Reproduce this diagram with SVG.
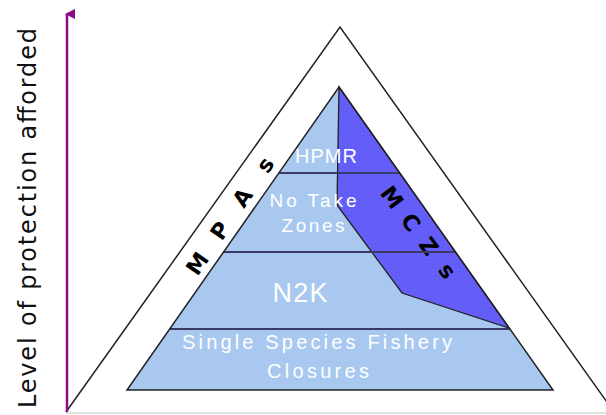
<svg xmlns="http://www.w3.org/2000/svg" width="606" height="415" viewBox="0 0 606 415">
<defs>
<style>
.tier{fill:#a8c8f0;stroke:none}
.tl{fill:#ffffff;font-family:"Liberation Sans",Arial,sans-serif;text-anchor:middle}
.sep{stroke:#3a3a66;stroke-width:2;fill:none}
.edge{stroke:#222;stroke-width:1.5;fill:none;stroke-linejoin:miter}
.side{font-family:"DejaVu Sans","Liberation Sans",sans-serif;font-weight:bold;font-size:22px;fill:#000;text-anchor:middle}
</style>
<pattern id="dots" width="4" height="4" patternUnits="userSpaceOnUse">
<rect width="4" height="4" fill="#5e5ef8"/>
<rect x="1" y="1" width="1.2" height="1.2" fill="#9a52ee"/>
</pattern>
<marker id="ah" viewBox="0 0 10 10" refX="5" refY="2" markerWidth="10" markerHeight="10" markerUnits="userSpaceOnUse" orient="auto-start-reverse">
<path d="M0,10 L5,0 L10,10 Z" fill="#8a0a8a"/>
</marker>
</defs>
<rect width="606" height="415" fill="#ffffff"/>

<g id="outer-triangle">
<line x1="66" y1="413" x2="606" y2="413" stroke="#d8d8d8" stroke-width="1.5"/>
<polyline points="66,412 340,27 614,412" fill="none" stroke="#222" stroke-width="1.5"/>
</g>

<g id="tier-closures">
<polygon class="tier" points="169.7,329 510,329 553,390 127,390"/>
<text class="tl" x="317" y="349" font-size="20" textLength="270" lengthAdjust="spacing">Single Species Fishery</text>
<text class="tl" x="318" y="378" font-size="20" textLength="102" lengthAdjust="spacing">Closures</text>
</g>
<g id="tier-n2k">
<polygon class="tier" points="223.5,252 455.5,252 510,329 169.7,329"/>
</g>
<g id="tier-notake">
<polygon class="tier" points="278.8,173 399.7,173 455.5,252 223.5,252"/>
</g>
<g id="tier-hpmr">
<polygon class="tier" points="339,87 399.7,173 278.8,173"/>
</g>

<g id="mczs">
<polygon points="339,87 337,205 402,293 509,328" fill="url(#dots)" stroke="#222" stroke-width="1.3"/>
<text class="side" transform="translate(420,234) rotate(53)" x="-46 -15 15 46" y="8">MCZs</text>
</g>

<g id="separators">
<line class="sep" x1="278.8" y1="173" x2="399.7" y2="173"/>
<line class="sep" x1="223.5" y1="252" x2="455.5" y2="252"/>
<line class="sep" x1="169.7" y1="329" x2="510" y2="329"/>
<polygon class="edge" points="339,87 553,390 127,390"/>
</g>

<g id="labels">
<text class="tl" x="326" y="163" font-size="20" textLength="62" lengthAdjust="spacing">HPMR</text>
<text class="tl" x="313" y="207" font-size="19" textLength="87" lengthAdjust="spacing">No Take</text>
<text class="tl" x="313" y="232" font-size="19" textLength="63" lengthAdjust="spacing">Zones</text>
<text class="tl" x="300" y="302" font-size="27" textLength="55" lengthAdjust="spacing">N2K</text>
</g>

<g id="mpas">
<text class="side" transform="translate(231,214) rotate(-55.5)" x="-60 -20 20 60" y="8">MPAs</text>
</g>

<g id="connectors">
<line x1="67" y1="412" x2="67" y2="14" stroke="#8a0a8a" stroke-width="2.5" marker-end="url(#ah)"/>
</g>

<g id="axis-label">
<text transform="translate(36,408) rotate(-90)" x="0" y="0" font-family="'DejaVu Sans',Verdana,sans-serif" font-size="24" fill="#111" textLength="380" lengthAdjust="spacing">Level of protection afforded</text>
</g>
</svg>
